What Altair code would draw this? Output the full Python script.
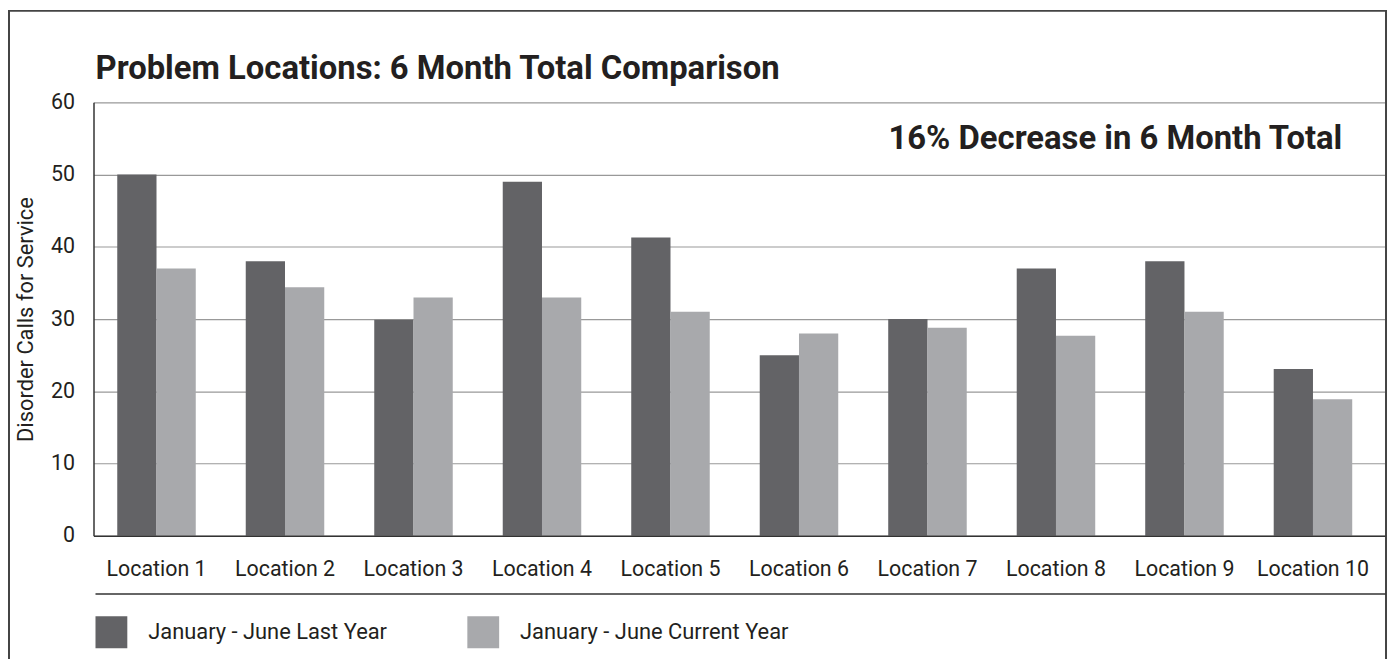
import altair as alt
import pandas as pd

# ---- data ----
locations = ["Location 1", "Location 2", "Location 3", "Location 4", "Location 5",
             "Location 6", "Location 7", "Location 8", "Location 9", "Location 10"]
last_year = [50, 38, 29.9, 49, 41.3, 25, 30, 37, 38, 23.1]
current_year = [37, 34.4, 33, 33, 31, 28, 28.8, 27.7, 31, 18.9]
series = ["January - June Last Year", "January - June Current Year"]
colors = ["#636366", "#a8a9ac"]
y_ticks = [0, 10, 20, 30, 40, 50, 60]
title_text = ["Problem Locations: 6 Month Total Comparison"]
note_text = ["16% Decrease in 6 Month Total"]
y_title = "Disorder Calls for Service"

rows = []
for loc, a, b in zip(locations, last_year, current_year):
    rows.append({"location": loc, "series": series[0], "calls": a})
    rows.append({"location": loc, "series": series[1], "calls": b})
df = pd.DataFrame(rows)

FONT = "Roboto"
INK = "#231f20"
W, H = 1299, 436

frame = alt.Chart(pd.DataFrame({"k": [0]})).mark_rect(
    fillOpacity=0, stroke="#444444", strokeWidth=2
).encode(x=alt.value(-85), x2=alt.value(1300), y=alt.value(-92), y2=alt.value(580))

bars = alt.Chart(df).mark_bar().encode(
    x=alt.X("location:N", sort=locations,
            scale=alt.Scale(paddingInner=0.389, paddingOuter=0.22, align=0.42),
            axis=alt.Axis(title=None, labelAngle=0, labelFont=FONT, labelFontSize=21.5,
                          labelColor=INK, labelPadding=23, ticks=False, tickSize=0,
                          domain=True, domainColor="#333333", domainWidth=1.5,
                          grid=False, zindex=1)),
    xOffset=alt.XOffset("series:N", sort=series,
                        scale=alt.Scale(paddingInner=0, paddingOuter=0)),
    y=alt.Y("calls:Q", scale=alt.Scale(domain=[0, 60]),
            axis=alt.Axis(values=y_ticks, title=y_title, titleFont=FONT,
                          titleFontSize=22, titleFontWeight="normal", titleColor=INK,
                          titleX=-68, titleY=218, titleAngle=270,
                          titleBaseline="middle", titleAlign="center",
                          labelFont=FONT, labelFontSize=21.5, labelColor=INK,
                          labelPadding=19, ticks=False, tickSize=0,
                          domain=True, domainColor="#333333", domainWidth=1.5,
                          grid=True, gridColor="#999999", gridWidth=1.2)),
    color=alt.Color("series:N", sort=series,
                    scale=alt.Scale(domain=series, range=colors),
                    legend=alt.Legend(title=None, orient="none", legendX=2, legendY=517,
                                      direction="horizontal", symbolType="square",
                                      symbolSize=1024, symbolStrokeWidth=0,
                                      symbolOpacity=1, labelFont=FONT,
                                      labelFontSize=22, labelColor=INK, labelLimit=500,
                                      labelOffset=21, columnPadding=80, padding=0)),
)

separator = alt.Chart(pd.DataFrame({"k": [0]})).mark_rule(
    color="#333333", strokeWidth=1.5
).encode(x=alt.value(2), x2=alt.value(1300), y=alt.value(494.5))

title = alt.Chart(pd.DataFrame({"t": title_text})).mark_text(
    align="left", baseline="alphabetic", font=FONT, fontSize=33,
    fontWeight="bold", color=INK
).encode(x=alt.value(2), y=alt.value(-23), text="t:N")

note = alt.Chart(pd.DataFrame({"t": note_text})).mark_text(
    align="right", baseline="alphabetic", font=FONT, fontSize=33,
    fontWeight="bold", color=INK
).encode(x=alt.value(1256), y=alt.value(47), text="t:N")

chart = alt.layer(frame, bars, separator, title, note).properties(
    width=W, height=H,
    autosize=alt.AutoSizeParams(type="none"),
    padding={"left": 86, "top": 93, "right": 3, "bottom": 122},
).configure_view(strokeWidth=0)

chart.save("out.html", embed_options={"renderer": "svg", "actions": False})
